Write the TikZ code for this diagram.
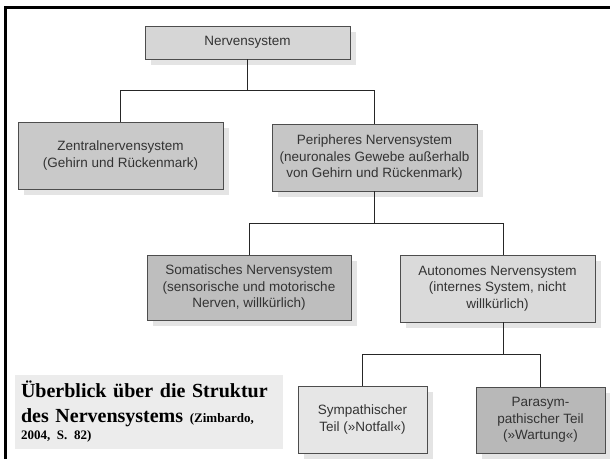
\documentclass[tikz,border=0pt]{standalone}
\usepackage{fontspec}
\setmainfont{Liberation Serif}
\setsansfont{Liberation Sans}
\usetikzlibrary{shadows}
\frenchspacing
\definecolor{boxline}{HTML}{4D4D4D}
\definecolor{boxtext}{HTML}{333333}
\definecolor{shadowgray}{HTML}{E4E4E4}
\definecolor{nsgray}{HTML}{D6D6D6}
\definecolor{znsgray}{HTML}{C9C9C9}
\definecolor{pnsgray}{HTML}{C6C6C6}
\definecolor{snsgray}{HTML}{BEBEBE}
\definecolor{ansgray}{HTML}{DADADA}
\definecolor{symgray}{HTML}{E6E6E6}
\definecolor{psymgray}{HTML}{B8B8B8}
\definecolor{titlegray}{HTML}{ECECEC}
\begin{document}
\begin{tikzpicture}[x=1pt, y=-1pt,
    box/.style={rectangle, draw=boxline, thin, text=boxtext, align=center, inner sep=0pt,
      font=\sffamily\fontsize{13.5}{16.5}\selectfont,
      drop shadow={shadow xshift=6pt, shadow yshift=-6pt, fill=shadowgray, draw=none, opacity=1}},
    link/.style={draw=black!85, line width=1pt}]
    \fill[white] (0,0) rectangle (610,459);
    \useasboundingbox (0,0) rectangle (610,459);
    \draw[line width=3pt, line join=miter] (5.5,459) -- (5.5,7) -- (612,7);
    \node[box, fill=nsgray, minimum width=205pt, minimum height=33pt] (ns) at (247.5,42.5) {Nervensystem};
    \node[box, fill=znsgray, minimum width=205pt, minimum height=67pt] (zns) at (120.5,155.5) {Zentralnervensystem\\(Gehirn und Rückenmark)};
    \node[box, fill=pnsgray, minimum width=205pt, minimum height=67pt] (pns) at (374.5,157.5) {Peripheres Nervensystem\\(neuronales Gewebe außerhalb\\von Gehirn und Rückenmark)};
    \node[box, fill=snsgray, minimum width=204pt, minimum height=65pt] (sns) at (249,287.5) {Somatisches Nervensystem\\(sensorische und motorische\\Nerven, willkürlich)};
    \node[box, fill=ansgray, minimum width=195pt, minimum height=67pt] (ans) at (497.5,288.5) {Autonomes Nervensystem\\(internes System, nicht\\willkürlich)};
    \node[box, fill=symgray, minimum width=129pt, minimum height=67pt] (sym) at (362.5,419.5) {Sympathischer\\Teil (»Notfall«)};
    \node[box, fill=psymgray, minimum width=129pt, minimum height=66pt] (psym) at (540.5,420) {Parasym-\\pathischer Teil\\(»Wartung«)};
    \node[fill=titlegray, minimum width=268pt, minimum height=72pt, text width=256pt, inner sep=6pt, align=left,
      font=\bfseries\fontsize{20}{25}\selectfont] (title) at (149,412)
      {Überblick über die Struktur\\des Nervensystems {\fontsize{13}{15}\selectfont (Zimbardo,}\\[-8pt]{\fontsize{13}{15}\selectfont 2004, S. 82)}};
    \draw[link] (ns.south) -- ++(0,31) -| (zns.north);
    \draw[link] (ns.south) -- ++(0,31) -| (pns.north);
    \draw[link] (pns.south) -- ++(0,32) -| (sns.north);
    \draw[link] (pns.south) -- ++(0,32) -| ([xshift=5.5pt]ans.north);
    \draw[link] ([xshift=5.5pt]ans.south) -- ++(0,32) -| (sym.north);
    \draw[link] ([xshift=5.5pt]ans.south) -- ++(0,32) -| (psym.north);
\end{tikzpicture}
\end{document}
